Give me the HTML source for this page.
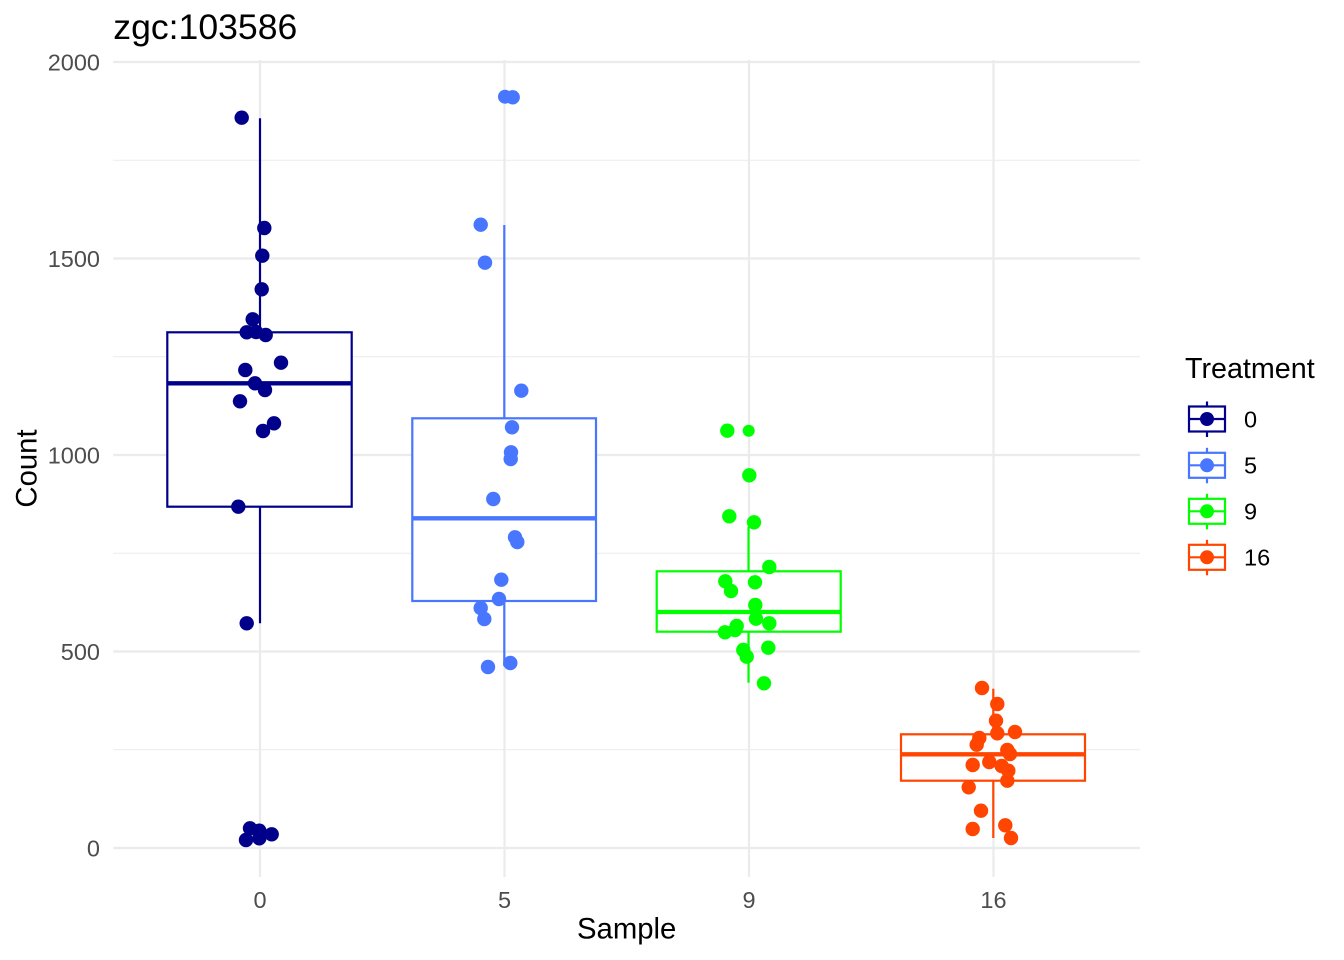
<!DOCTYPE html>
<html>
<head>
<meta charset="utf-8">
<style>
html,body{margin:0;padding:0;background:#fff;}
svg{display:block;font-family:"Liberation Sans",Arial,sans-serif;}
</style>
</head>
<body>
<svg width="1344" height="960" viewBox="0 0 1344 960" xmlns="http://www.w3.org/2000/svg">
<rect width="1344" height="960" fill="#fff"/>
<!-- minor grid -->
<g stroke="#ebebeb" stroke-width="1.1">
<line x1="113.3" x2="1140" y1="749.75" y2="749.75"/>
<line x1="113.3" x2="1140" y1="553.25" y2="553.25"/>
<line x1="113.3" x2="1140" y1="356.75" y2="356.75"/>
<line x1="113.3" x2="1140" y1="160.25" y2="160.25"/>
</g>
<!-- major grid -->
<g stroke="#ebebeb" stroke-width="2.2">
<line x1="113.3" x2="1140" y1="848" y2="848"/>
<line x1="113.3" x2="1140" y1="651.5" y2="651.5"/>
<line x1="113.3" x2="1140" y1="455" y2="455"/>
<line x1="113.3" x2="1140" y1="258.5" y2="258.5"/>
<line x1="113.3" x2="1140" y1="62" y2="62"/>
<line x1="260" x2="260" y1="60" y2="877"/>
<line x1="504.5" x2="504.5" y1="60" y2="877"/>
<line x1="749" x2="749" y1="60" y2="877"/>
<line x1="993.5" x2="993.5" y1="60" y2="877"/>
</g>

<!-- boxplots -->
<g fill="#fff" stroke-width="2.2">
<g stroke="#00008B">
<line x1="260" x2="260" y1="118.3" y2="332.3"/>
<line x1="260" x2="260" y1="506.7" y2="623.3"/>
<rect x="167.3" y="332.3" width="184.4" height="174.4"/>
<line x1="167.3" x2="351.7" y1="383.3" y2="383.3" stroke-width="4.3"/>
</g>
<g stroke="#4876FF">
<line x1="504.3" x2="504.3" y1="225" y2="418.3"/>
<line x1="504.3" x2="504.3" y1="601" y2="666"/>
<rect x="412.3" y="418.3" width="183.7" height="182.7"/>
<line x1="412.3" x2="596" y1="518.3" y2="518.3" stroke-width="4.3"/>
</g>
<g stroke="#00FF00">
<line x1="748.5" x2="748.5" y1="526.7" y2="571.3"/>
<line x1="748.5" x2="748.5" y1="631.7" y2="682.7"/>
<rect x="656.7" y="571.3" width="184" height="60.4"/>
<line x1="656.7" x2="840.7" y1="612" y2="612" stroke-width="4.3"/>
</g>
<g stroke="#FF4500">
<line x1="993.3" x2="993.3" y1="688.7" y2="734.3"/>
<line x1="993.3" x2="993.3" y1="780.7" y2="838"/>
<rect x="901" y="734.3" width="184" height="46.4"/>
<line x1="901" x2="1085" y1="754.3" y2="754.3" stroke-width="4.3"/>
</g>
</g>

<!-- points -->
<g fill="#00008B">
<circle cx="241.7" cy="117.7" r="7.2"/><circle cx="264.3" cy="228" r="7.2"/><circle cx="262.3" cy="255.7" r="7.2"/><circle cx="261.7" cy="289.3" r="7.2"/><circle cx="252.7" cy="319.3" r="7.2"/><circle cx="246.7" cy="332.3" r="7.2"/><circle cx="256" cy="332" r="7.2"/><circle cx="265.7" cy="335" r="7.2"/><circle cx="281" cy="362.7" r="7.2"/><circle cx="245.3" cy="370" r="7.2"/><circle cx="255" cy="383.3" r="7.2"/><circle cx="265" cy="390" r="7.2"/><circle cx="240" cy="401.3" r="7.2"/><circle cx="274" cy="423.3" r="7.2"/><circle cx="263" cy="431" r="7.2"/><circle cx="238.3" cy="506.7" r="7.2"/><circle cx="246.7" cy="623.3" r="7.2"/><circle cx="250" cy="828.3" r="7.2"/><circle cx="259.3" cy="830.7" r="7.2"/><circle cx="271.7" cy="834.3" r="7.2"/><circle cx="246" cy="840" r="7.2"/><circle cx="259.3" cy="838.3" r="7.2"/>
</g>
<g fill="#4876FF">
<circle cx="505" cy="96.7" r="7"/><circle cx="512.7" cy="97.3" r="7.2"/><circle cx="480.7" cy="224.7" r="7.2"/><circle cx="485" cy="262.7" r="7.2"/><circle cx="521.3" cy="390.7" r="7.2"/><circle cx="512" cy="427.3" r="7.2"/><circle cx="511" cy="452.3" r="7.2"/><circle cx="510.7" cy="459" r="7.2"/><circle cx="493.3" cy="499" r="7.2"/><circle cx="515" cy="537.3" r="7.2"/><circle cx="517.3" cy="542" r="7.2"/><circle cx="501.3" cy="579.7" r="7.2"/><circle cx="499" cy="599" r="7.2"/><circle cx="480.7" cy="608" r="7.2"/><circle cx="484.3" cy="619" r="7.2"/><circle cx="488" cy="667" r="7.2"/><circle cx="510.3" cy="663" r="7.2"/>
</g>
<g fill="#00FF00">
<circle cx="727.3" cy="430.7" r="7.2"/><circle cx="748.7" cy="430.7" r="6"/><circle cx="749.3" cy="475.3" r="7.2"/><circle cx="729.3" cy="516.3" r="7.2"/><circle cx="754" cy="522.3" r="7.2"/><circle cx="769.3" cy="567" r="7.2"/><circle cx="725.3" cy="581.3" r="7.2"/><circle cx="731" cy="591" r="7.2"/><circle cx="755" cy="582.3" r="7.2"/><circle cx="755.3" cy="605" r="7.2"/><circle cx="756" cy="618.7" r="7.2"/><circle cx="769.3" cy="623.3" r="7.2"/><circle cx="736.7" cy="626" r="7.2"/><circle cx="725" cy="632.3" r="7.2"/><circle cx="735" cy="630" r="7.2"/><circle cx="743.3" cy="650" r="7.2"/><circle cx="746.7" cy="656.7" r="7.2"/><circle cx="768.3" cy="647.7" r="7.2"/><circle cx="764" cy="683.3" r="7.2"/>
</g>
<g fill="#FF4500">
<circle cx="982" cy="688" r="7.2"/><circle cx="997.3" cy="704" r="7.2"/><circle cx="996" cy="720.7" r="7.2"/><circle cx="997.3" cy="733.3" r="7.2"/><circle cx="1015" cy="732" r="7.2"/><circle cx="979.3" cy="738" r="7.2"/><circle cx="976.7" cy="744.7" r="7.2"/><circle cx="1007.3" cy="750" r="7.2"/><circle cx="1010" cy="754" r="7.2"/><circle cx="989.3" cy="762" r="7.2"/><circle cx="972.7" cy="765" r="7.2"/><circle cx="1001.7" cy="766" r="7.2"/><circle cx="1008.3" cy="770.7" r="7.2"/><circle cx="1007.3" cy="780.7" r="7.2"/><circle cx="968.7" cy="787.3" r="7.2"/><circle cx="981" cy="810.7" r="7.2"/><circle cx="972.7" cy="829" r="7.2"/><circle cx="1005.3" cy="825.3" r="7.2"/><circle cx="1011" cy="838" r="7.2"/>
</g>

<!-- title -->
<text x="113.3" y="39" font-size="35.6" fill="#000">zgc:103586</text>

<!-- y tick labels -->
<g font-size="23.5" fill="#4d4d4d" text-anchor="end">
<text x="100" y="856.4">0</text>
<text x="100" y="659.9">500</text>
<text x="100" y="463.4">1000</text>
<text x="100" y="266.9">1500</text>
<text x="100" y="70.4">2000</text>
</g>
<!-- x tick labels -->
<g font-size="23.5" fill="#4d4d4d" text-anchor="middle">
<text x="260" y="908">0</text>
<text x="504.5" y="908">5</text>
<text x="749" y="908">9</text>
<text x="993.5" y="908">16</text>
</g>

<!-- axis titles -->
<text x="626.7" y="938.5" font-size="29.3" text-anchor="middle" fill="#000">Sample</text>
<text transform="translate(36.5,468.5) rotate(-90)" font-size="29.3" text-anchor="middle" fill="#000">Count</text>

<!-- legend -->
<text x="1185" y="378" font-size="28.7" fill="#000">Treatment</text>
<g stroke-width="2.2" fill="#fff">
<g stroke="#00008B">
<line x1="1207" x2="1207" y1="401.5" y2="437"/>
<rect x="1189" y="406.5" width="36" height="25"/>
<line x1="1189" x2="1225" y1="419" y2="419"/>
<circle cx="1207" cy="419" r="7" fill="#00008B" stroke="none"/>
</g>
<g stroke="#4876FF">
<line x1="1207" x2="1207" y1="447.8" y2="483.3"/>
<rect x="1189" y="452.8" width="36" height="25"/>
<line x1="1189" x2="1225" y1="465.3" y2="465.3"/>
<circle cx="1207" cy="465.3" r="7" fill="#4876FF" stroke="none"/>
</g>
<g stroke="#00FF00">
<line x1="1207" x2="1207" y1="493.8" y2="529.3"/>
<rect x="1189" y="498.8" width="36" height="25"/>
<line x1="1189" x2="1225" y1="511.3" y2="511.3"/>
<circle cx="1207" cy="511.3" r="7" fill="#00FF00" stroke="none"/>
</g>
<g stroke="#FF4500">
<line x1="1207" x2="1207" y1="539.8" y2="575.3"/>
<rect x="1189" y="544.8" width="36" height="25"/>
<line x1="1189" x2="1225" y1="557.3" y2="557.3"/>
<circle cx="1207" cy="557.3" r="7" fill="#FF4500" stroke="none"/>
</g>
</g>
<g font-size="23.5" fill="#000">
<text x="1244" y="427.4">0</text>
<text x="1244" y="473.7">5</text>
<text x="1244" y="519.7">9</text>
<text x="1244" y="565.7">16</text>
</g>
</svg>
</body>
</html>
